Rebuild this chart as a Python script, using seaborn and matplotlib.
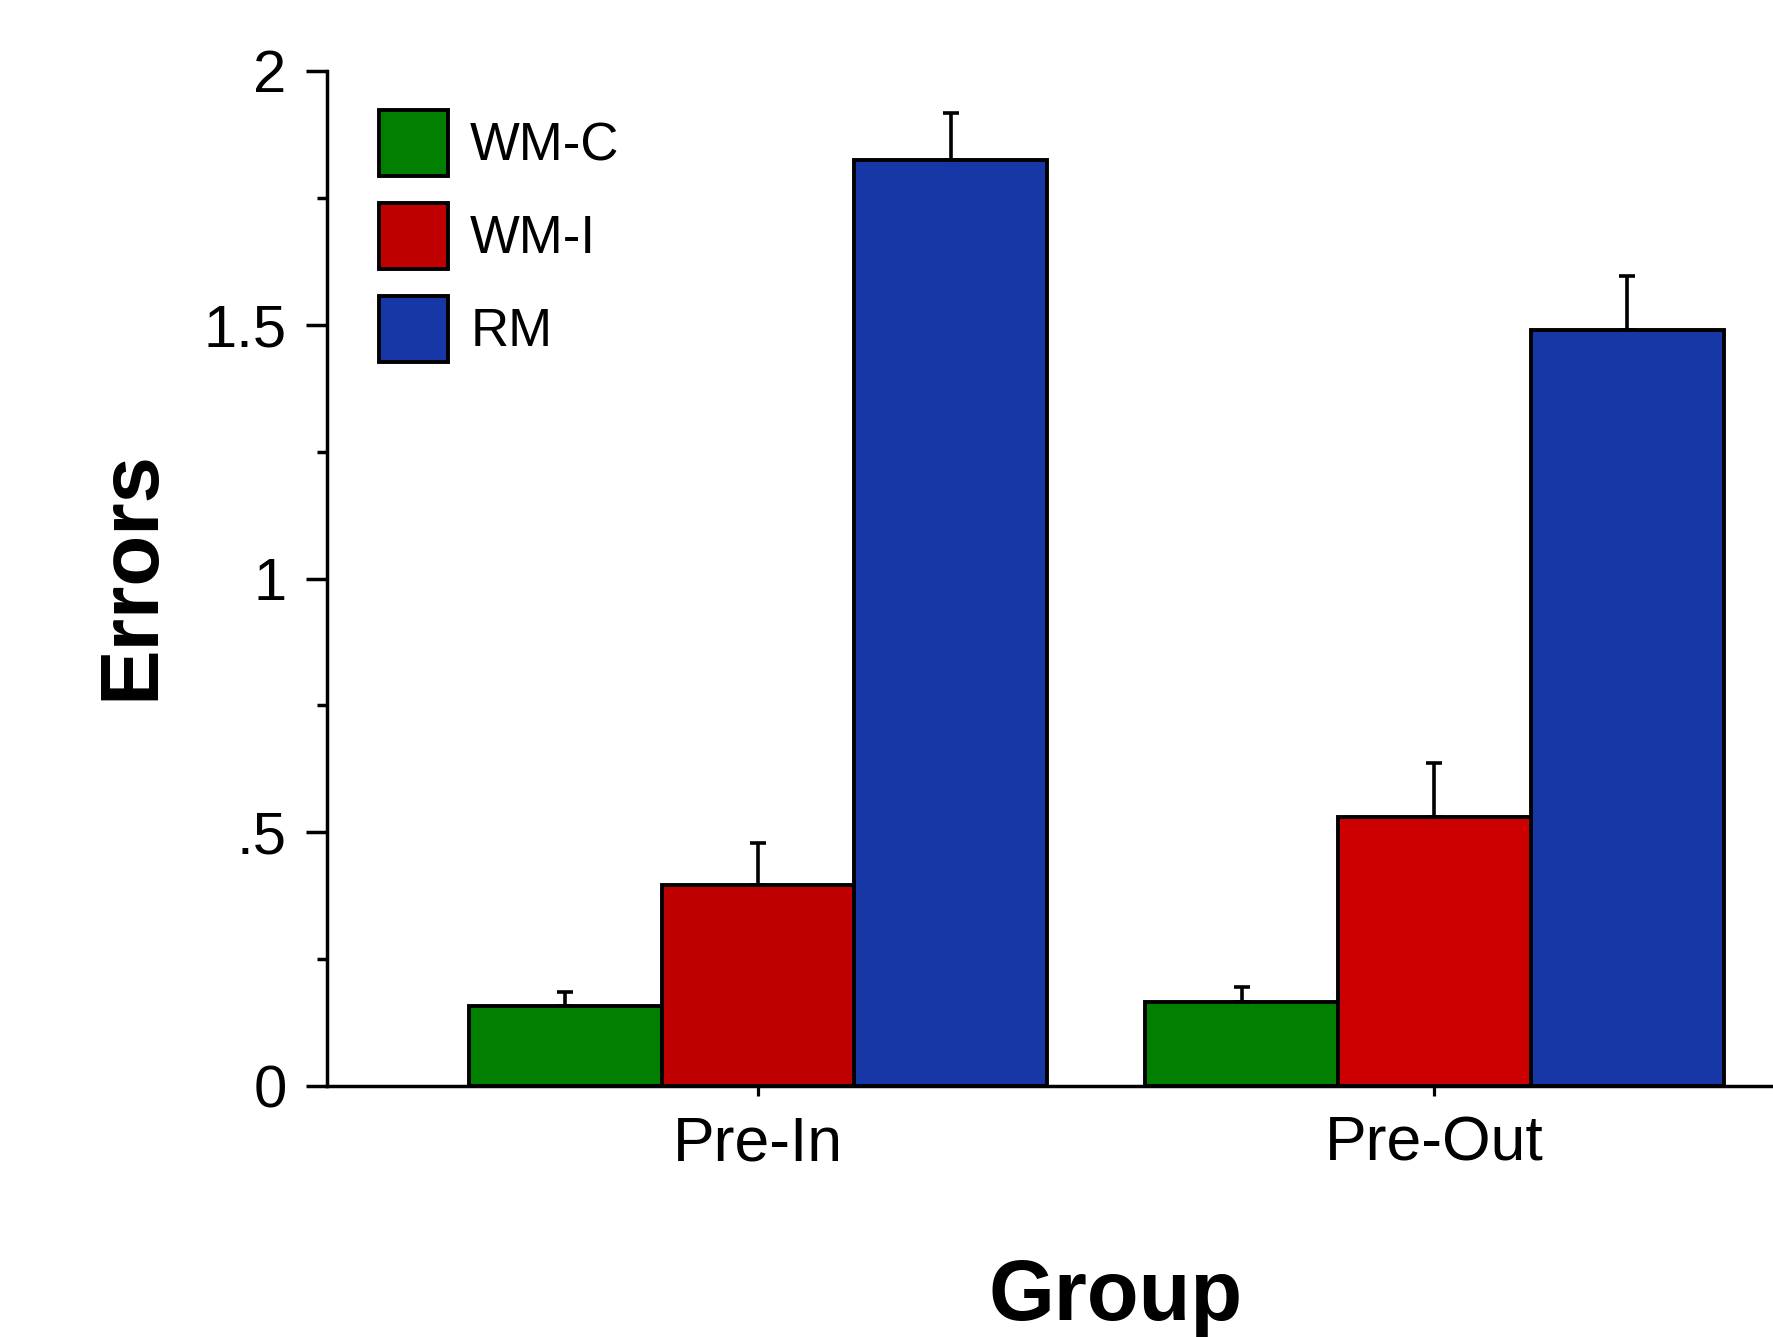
import numpy as np
import pandas as pd
import matplotlib
matplotlib.use("Agg")
import matplotlib.pyplot as plt
from matplotlib.patches import Patch
from matplotlib.ticker import FixedLocator
import seaborn as sns

# data
groups = ['Pre-In', 'Pre-Out']
conditions = ['WM-C', 'WM-I', 'RM']
wmc_mean = [0.158, 0.166]
wmc_err = [0.028, 0.030]
wmi_mean = [0.396, 0.531]
wmi_err = [0.083, 0.105]
rm_mean = [1.824, 1.489]
rm_err = [0.093, 0.108]

colors = {'WM-C': '#007F00', 'WM-I': '#BF0000', 'RM': '#1737A6'}

df = pd.DataFrame({
    'Group': groups * 3,
    'Condition': [c for c in conditions for _ in groups],
    'Errors': wmc_mean + wmi_mean + rm_mean,
    'SE': wmc_err + wmi_err + rm_err,
})

sns.set_style("ticks")
plt.rcParams['font.family'] = ['Liberation Sans', 'DejaVu Sans']
plt.rcParams['text.color'] = 'black'
plt.rcParams['axes.labelcolor'] = 'black'
plt.rcParams['xtick.color'] = 'black'
plt.rcParams['ytick.color'] = 'black'

W, H = 1774, 1337
fig = plt.figure(figsize=(W / 100, H / 100), dpi=100)
ax = fig.add_axes([327 / W, 1 - 1086 / H, 1447 / W, 1015 / H])

sns.barplot(data=df, x='Group', y='Errors', hue='Condition', order=groups,
            hue_order=conditions, palette=colors, errorbar=None, width=0.855,
            edgecolor='black', linewidth=2.8, saturation=1, legend=False, ax=ax)

# Pre-Out red is a touch brighter in the original
ax.containers[1][1].set_facecolor('#CC0000')

# upper-only error bars at bar centres
for cont, cond in zip(ax.containers, conditions):
    sub = df[df['Condition'] == cond].set_index('Group').loc[groups]
    xs = [p.get_x() + p.get_width() / 2 for p in cont]
    ax.errorbar(xs, sub['Errors'].values,
                yerr=[np.zeros(len(xs)), sub['SE'].values],
                fmt='none', ecolor='black', elinewidth=2.6,
                capsize=6.1, capthick=2.6, zorder=1)

ax.set_xlim(-0.637, 1.502)
ax.set_ylim(0, 2)
ax.set_yticks([0, 0.5, 1, 1.5, 2])
ax.set_yticklabels(['0', '.5', '1', '1.5', '2'])
ax.yaxis.set_minor_locator(FixedLocator([0.25, 0.75, 1.25, 1.75]))

sns.despine(ax=ax)
for s in ['left', 'bottom']:
    ax.spines[s].set_linewidth(2.5)
    ax.spines[s].set_color('black')

ax.tick_params(axis='y', which='major', length=15, width=2.5, labelsize=43,
               pad=14)
ax.tick_params(axis='y', which='minor', length=7.5, width=2.5)
ax.tick_params(axis='x', which='major', length=7.5, width=2.3, labelsize=45,
               pad=13)

ax.set_xlabel('')
ax.set_ylabel('')
fig.text(1116 / W, 1 - 1258 / H, 'Group', ha='center', va='top',
         fontsize=61, fontweight='bold')
fig.text(131 / W, 1 - 575 / H, 'Errors', ha='center', va='center',
         rotation=90, fontsize=60, fontweight='bold')

handles = [Patch(facecolor=colors[c], edgecolor='black', linewidth=2.8)
           for c in conditions]
ax.legend(handles, conditions, loc='upper left',
          bbox_to_anchor=(0.0359, 0.9616), frameon=False, borderpad=0,
          borderaxespad=0, fontsize=38, handlelength=1.31,
          handleheight=1.546, labelspacing=0.51, handletextpad=0.42)

fig.savefig('out.png', dpi=100, facecolor='white')
